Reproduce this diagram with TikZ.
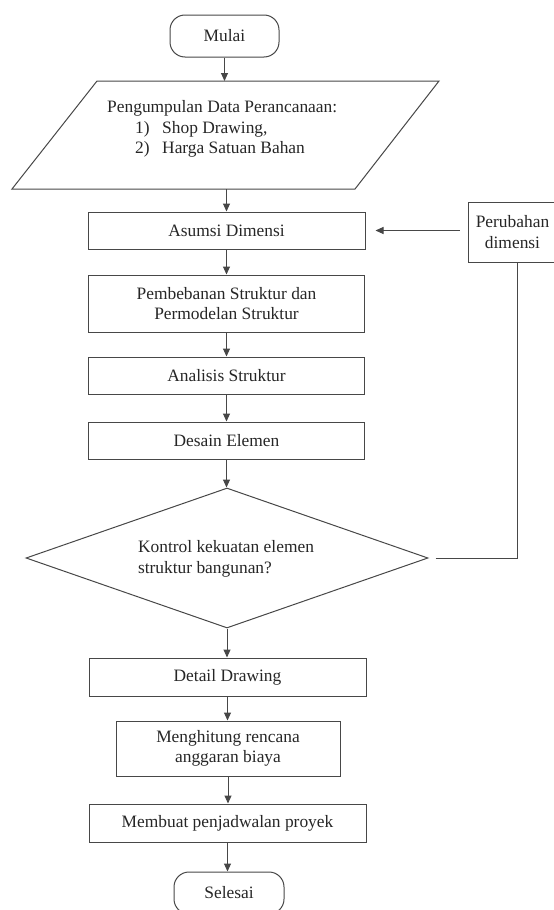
\documentclass[tikz,border=0pt]{standalone}
\usepackage{fontspec}
\setmainfont{Liberation Serif}
\usetikzlibrary{arrows.meta,shapes.geometric}
\begin{document}
\begin{tikzpicture}[x=1pt,y=-1pt,
  every node/.style={font=\fontsize{17.4}{20.5}\selectfont, text=black!85},
  ln/.style={draw=black!72, line width=1pt},
  box/.style={ln, inner sep=0pt, align=center},
  term/.style={box, rounded corners=15pt},
  arr/.style={ln, -{Triangle[length=8pt,width=7pt]}}
]
\useasboundingbox (0,0) rectangle (554,910);
\clip (0,0) rectangle (554,910);

% terminals and process boxes
\node[term, minimum width=109pt, minimum height=42pt] (mulai) at (224.5,36) {Mulai};

\coordinate (pTL) at (97,81);
\coordinate (pTR) at (439,81);
\coordinate (pBR) at (355,189);
\coordinate (pBL) at (12,189);
\draw[ln] (pTL) -- (pTR) -- (pBR) -- (pBL) -- cycle;
\coordinate (pTop) at (226.5,81);
\coordinate (pBot) at (226.5,189);
\node[align=left, anchor=west, inner sep=0pt] (datatext) at (107,129)
  {Pengumpulan Data Perancanaan:\\
   \hspace*{28pt}1)\hspace*{12.5pt}Shop Drawing,\\
   \hspace*{28pt}2)\hspace*{12.5pt}Harga Satuan Bahan};

\node[box, minimum width=277pt, minimum height=37pt] (asumsi) at (226.5,230.5) {Asumsi Dimensi};
\node[box, minimum width=276pt, minimum height=57pt] (beban) at (226.5,303.5) {Pembebanan Struktur dan\\Permodelan Struktur};
\node[box, minimum width=276pt, minimum height=37pt] (analisis) at (226.5,375.5) {Analisis Struktur};
\node[box, minimum width=276pt, minimum height=37pt] (desain) at (226.5,440.5) {Desain Elemen};

\node[ln, diamond, inner sep=0pt, minimum width=402pt, minimum height=140pt] (kontrol) at (227,558) {};
\node[align=left, inner sep=0pt] (kontroltext) at (226,559) {Kontrol kekuatan elemen\\struktur bangunan?};

\node[box, minimum width=277pt, minimum height=38pt] (detail) at (227.5,677) {Detail Drawing};
\node[box, minimum width=224pt, minimum height=55pt] (rab) at (228,748.5) {Menghitung rencana\\anggaran biaya};
\node[box, minimum width=277pt, minimum height=38pt] (jadwal) at (227.5,823) {Membuat penjadwalan proyek};
\node[term, minimum width=110pt, minimum height=42pt] (selesai) at (229,893) {Selesai};

\node[box, minimum width=89pt, minimum height=60pt] (ubah) at (512.5,232) {Perubahan\\dimensi};

% connectors
\draw[arr] (mulai.south) -- (mulai.south |- pTop);
\draw[arr] (pBot) -- (pBot |- asumsi.north);
\draw[arr] (asumsi.south) -- (asumsi.south |- beban.north);
\draw[arr] (beban.south) -- (beban.south |- analisis.north);
\draw[arr] (analisis.south) -- (analisis.south |- desain.north);
\draw[arr] (desain.south) -- (desain.south |- kontrol.north);
\draw[arr] (kontrol.south) -- (kontrol.south |- detail.north);
\draw[arr] (detail.south) -- (detail.south |- rab.north);
\draw[arr] (rab.south) -- (rab.south |- jadwal.north);
\draw[arr] (jadwal.south) -- (jadwal.south |- selesai.north);

\coordinate (fb) at (517,558);
\draw[ln] ([xshift=7pt]kontrol.east) -- (fb) -- (fb |- ubah.south);
\draw[arr] ([xshift=-8pt]ubah.west |- asumsi.east) -- ([xshift=10pt]asumsi.east);
\end{tikzpicture}
\end{document}
